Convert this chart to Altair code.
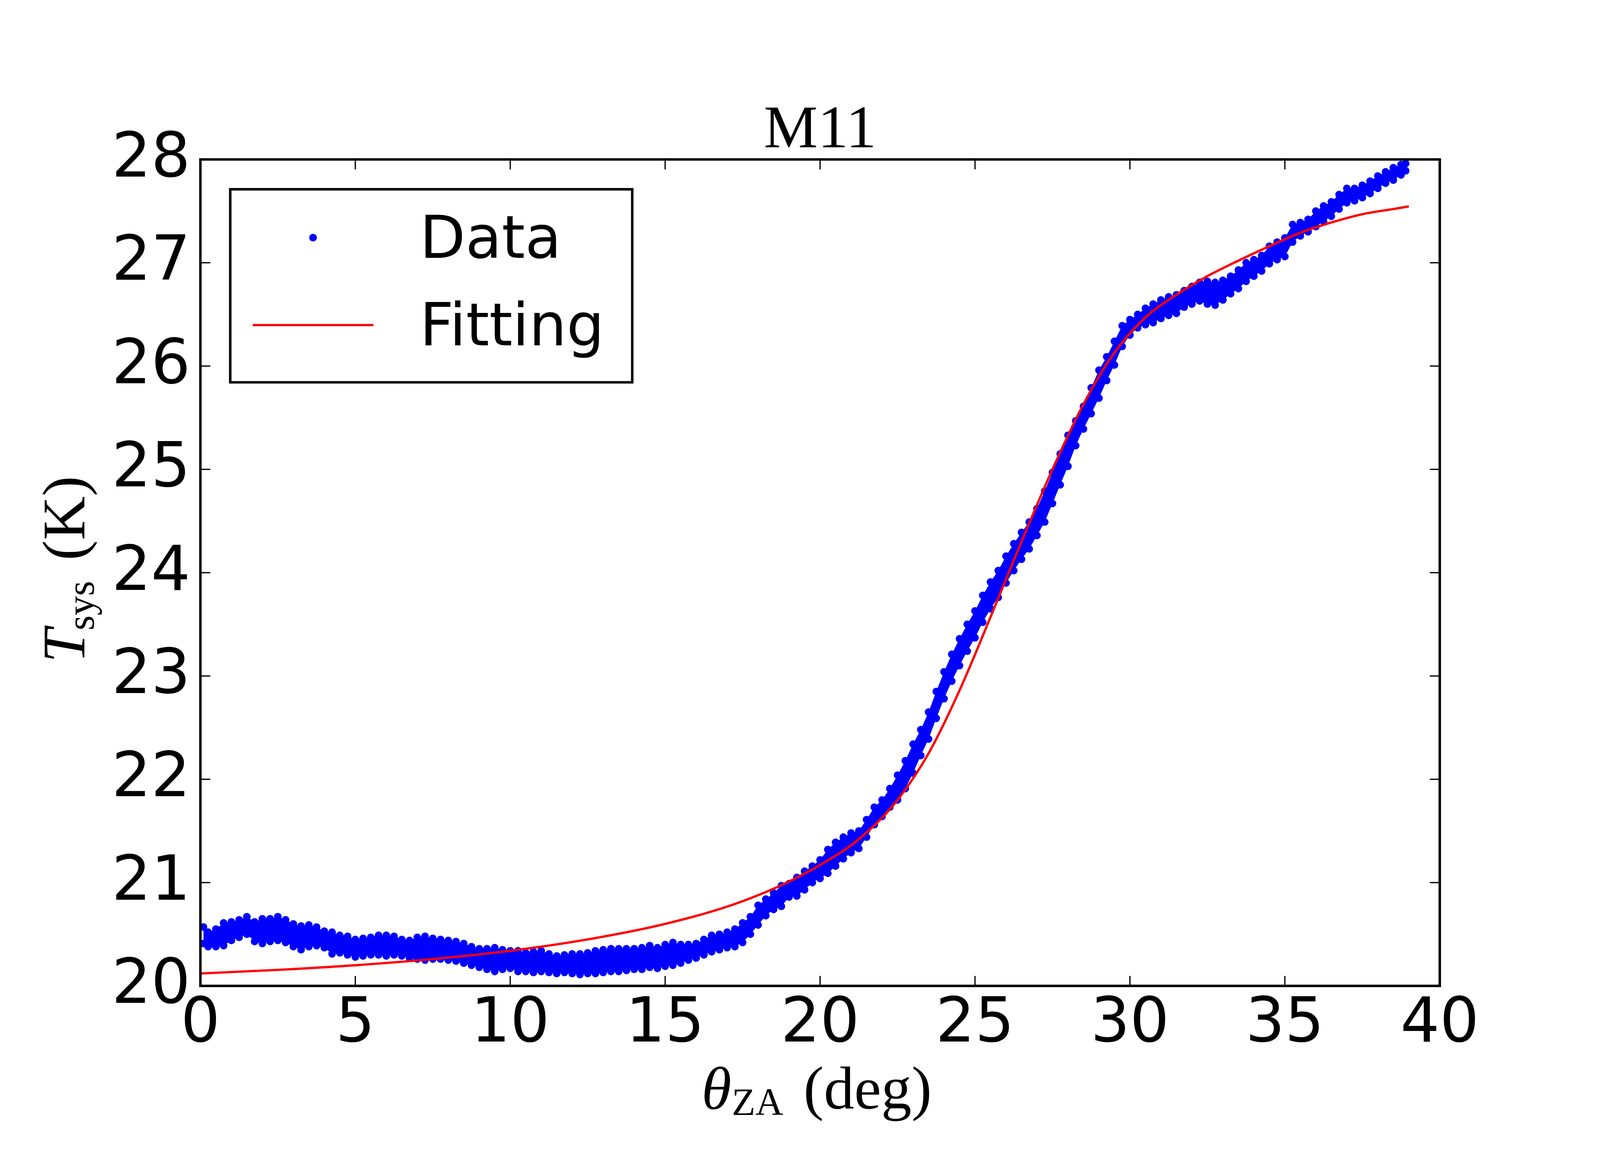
import altair as alt
import pandas as pd

# ---------------- data ----------------
THETA = [0.1, 0.25, 0.5, 0.75, 1.0, 1.25, 1.5, 1.75, 2.0, 2.25, 2.5, 2.75, 3.0, 3.25, 3.5, 3.75,
         4.0, 4.25, 4.5, 4.75, 5.0, 5.25, 5.5, 5.75, 6.0, 6.25, 6.5, 6.75, 7.0, 7.25, 7.5, 7.75,
         8.0, 8.25, 8.5, 8.75, 9.0, 9.25, 9.5, 9.75, 10.0, 10.25, 10.5, 10.75, 11.0, 11.25, 11.5, 11.75,
         12.0, 12.25, 12.5, 12.75, 13.0, 13.25, 13.5, 13.75, 14.0, 14.25, 14.5, 14.75, 15.0, 15.25, 15.5, 15.75,
         16.0, 16.25, 16.5, 16.75, 17.0, 17.25, 17.5, 17.75, 18.0, 18.25, 18.5, 18.75, 19.0, 19.25, 19.5, 19.75,
         20.0, 20.25, 20.5, 20.75, 21.0, 21.25, 21.5, 21.75, 22.0, 22.25, 22.5, 22.75, 23.0, 23.25, 23.5, 23.75,
         24.0, 24.25, 24.5, 24.75, 25.0, 25.25, 25.5, 25.75, 26.0, 26.25, 26.5, 26.75, 27.0, 27.25, 27.5, 27.75,
         28.0, 28.25, 28.5, 28.75, 29.0, 29.25, 29.5, 29.75, 30.0, 30.25, 30.5, 30.75, 31.0, 31.25, 31.5, 31.75,
         32.0, 32.25, 32.5, 32.75, 33.0, 33.25, 33.5, 33.75, 34.0, 34.25, 34.5, 34.75, 35.0, 35.25, 35.5, 35.75,
         36.0, 36.25, 36.5, 36.75, 37.0, 37.25, 37.5, 37.75, 38.0, 38.25, 38.5, 38.75, 38.9]

# upper edge of the scatter band (K)
T_UPPER = [20.57, 20.52, 20.55, 20.61, 20.62, 20.64, 20.67, 20.62, 20.65, 20.65, 20.67, 20.64, 20.60, 20.58, 20.59, 20.57,
           20.53, 20.52, 20.49, 20.48, 20.45, 20.46, 20.47, 20.49, 20.49, 20.48, 20.45, 20.44, 20.47, 20.48, 20.46, 20.45,
           20.44, 20.43, 20.41, 20.38, 20.36, 20.36, 20.37, 20.35, 20.34, 20.34, 20.32, 20.33, 20.34, 20.31, 20.29, 20.30,
           20.31, 20.31, 20.32, 20.34, 20.35, 20.36, 20.36, 20.36, 20.36, 20.37, 20.39, 20.37, 20.40, 20.42, 20.40, 20.40,
           20.41, 20.45, 20.49, 20.50, 20.52, 20.55, 20.61, 20.67, 20.78, 20.84, 20.90, 20.97, 20.99, 21.05, 21.11, 21.16,
           21.22, 21.32, 21.39, 21.44, 21.48, 21.50, 21.61, 21.73, 21.80, 21.91, 22.04, 22.18, 22.34, 22.48, 22.65, 22.85,
           23.04, 23.21, 23.36, 23.50, 23.63, 23.78, 23.91, 24.02, 24.16, 24.28, 24.39, 24.49, 24.62, 24.79, 24.97, 25.15,
           25.33, 25.47, 25.61, 25.79, 25.96, 26.09, 26.24, 26.39, 26.45, 26.50, 26.56, 26.60, 26.64, 26.67, 26.69, 26.73,
           26.77, 26.81, 26.82, 26.81, 26.83, 26.87, 26.93, 27.00, 27.03, 27.07, 27.16, 27.20, 27.24, 27.37, 27.39, 27.42,
           27.50, 27.55, 27.59, 27.66, 27.72, 27.72, 27.75, 27.79, 27.84, 27.88, 27.92, 27.95, 27.96]

# lower edge of the scatter band (K)
T_LOWER = [20.41, 20.38, 20.38, 20.39, 20.44, 20.47, 20.50, 20.43, 20.41, 20.43, 20.44, 20.42, 20.38, 20.35, 20.38, 20.39,
           20.37, 20.31, 20.32, 20.30, 20.28, 20.29, 20.30, 20.30, 20.29, 20.30, 20.29, 20.27, 20.26, 20.25, 20.26, 20.26,
           20.25, 20.24, 20.22, 20.20, 20.18, 20.16, 20.14, 20.16, 20.17, 20.14, 20.14, 20.13, 20.14, 20.13, 20.12, 20.13,
           20.12, 20.11, 20.12, 20.12, 20.13, 20.14, 20.14, 20.15, 20.16, 20.16, 20.18, 20.17, 20.19, 20.20, 20.22, 20.25,
           20.27, 20.30, 20.33, 20.35, 20.37, 20.38, 20.42, 20.50, 20.59, 20.68, 20.74, 20.77, 20.86, 20.87, 20.93, 21.00,
           21.04, 21.09, 21.16, 21.23, 21.29, 21.33, 21.44, 21.56, 21.64, 21.73, 21.80, 21.91, 22.06, 22.23, 22.39, 22.59,
           22.78, 22.95, 23.10, 23.24, 23.37, 23.52, 23.65, 23.76, 23.90, 24.02, 24.13, 24.23, 24.36, 24.49, 24.67, 24.85,
           25.03, 25.23, 25.39, 25.54, 25.69, 25.86, 26.01, 26.19, 26.30, 26.37, 26.40, 26.42, 26.46, 26.49, 26.51, 26.57,
           26.60, 26.63, 26.60, 26.59, 26.64, 26.70, 26.75, 26.82, 26.87, 26.92, 26.99, 27.03, 27.06, 27.20, 27.26, 27.30,
           27.35, 27.40, 27.45, 27.52, 27.58, 27.60, 27.63, 27.67, 27.72, 27.77, 27.80, 27.85, 27.89]

# fitted curve
FIT_THETA = [0.0, 2.5, 5.0, 7.5, 10.0, 12.5, 15.0, 17.5, 18.75, 20.0, 21.25, 22.5, 23.5, 24.5, 25.5,
             26.5, 27.5, 28.5, 29.5, 30.5, 31.5, 32.5, 33.5, 34.5, 35.5, 36.5, 37.5, 38.5, 39.0]
FIT_T = [20.12, 20.155, 20.20, 20.26, 20.34, 20.45, 20.60, 20.82, 20.975, 21.17, 21.42, 21.80, 22.25, 22.86, 23.57,
         24.30, 25.00, 25.63, 26.13, 26.47, 26.69, 26.87, 27.02, 27.16, 27.29, 27.39, 27.47, 27.52, 27.545]

X_LIM = [0, 40]
Y_LIM = [20, 28]
X_TICKS = [0, 5, 10, 15, 20, 25, 30, 35, 40]
Y_TICKS = [20, 21, 22, 23, 24, 25, 26, 27, 28]
TITLE = "M11"
LEGEND_LABELS = ["Data", "Fitting"]

# ---------------- layout / styling ----------------
CW, CH = 4484, 2984              # whole canvas (page minus 8px margins)
PX0, PX1 = 555, 4042             # plot area, canvas pixels
PY0, PY1 = 292, 2617
BLUE = "#0000ff"
RED = "#ff0000"
TICK_LEN = 28
SANS = "DejaVu Sans"
SERIF = "Liberation Serif"
TICK_FS = 174

band = pd.DataFrame({"theta": THETA, "hi": T_UPPER, "lo": T_LOWER})
fit = pd.DataFrame({"theta": FIT_THETA, "T": FIT_T})
xt = pd.DataFrame({"v": X_TICKS})
yt = pd.DataFrame({"v": Y_TICKS})
frame_df = pd.DataFrame({"x0": [X_LIM[0]], "x1": [X_LIM[1]], "y0": [Y_LIM[0]], "y1": [Y_LIM[1]]})

xs = alt.Scale(domain=X_LIM, range=[PX0, PX1], nice=False, zero=False)
ys = alt.Scale(domain=Y_LIM, range=[PY1, PY0], nice=False, zero=False)


def X(f):
    return alt.X(f, scale=xs, axis=None)


def Y(f):
    return alt.Y(f, scale=ys, axis=None)


area = alt.Chart(band).mark_area(color=BLUE, opacity=1).encode(
    x=X("theta:Q"), y=Y("lo:Q"), y2="hi:Q")

pts = alt.Chart(band).transform_fold(["hi", "lo"], as_=["edge", "T"]).mark_circle(
    color=BLUE, opacity=1, size=460).encode(x=X("theta:Q"), y=Y("T:Q"))

line = alt.Chart(fit).mark_line(color=RED, strokeWidth=6.5, interpolate="monotone").encode(
    x=X("theta:Q"), y=Y("T:Q"))

frame = alt.Chart(frame_df).mark_rect(fillOpacity=0, stroke="black", strokeWidth=7).encode(
    x=X("x0:Q"), x2="x1:Q", y=Y("y0:Q"), y2="y1:Q")

tick_style = dict(color="black", strokeWidth=3.5)
tb = alt.Chart(xt).mark_rule(**tick_style).encode(
    x=X("v:Q"), y=alt.value(PY1), y2=alt.value(PY1 - TICK_LEN))
tt = alt.Chart(xt).mark_rule(**tick_style).encode(
    x=X("v:Q"), y=alt.value(PY0), y2=alt.value(PY0 + TICK_LEN))
tl = alt.Chart(yt).mark_rule(**tick_style).encode(
    y=Y("v:Q"), x=alt.value(PX0), x2=alt.value(PX0 + TICK_LEN))
tr = alt.Chart(yt).mark_rule(**tick_style).encode(
    y=Y("v:Q"), x=alt.value(PX1), x2=alt.value(PX1 - TICK_LEN))

xlab = alt.Chart(xt).mark_text(font=SANS, fontSize=TICK_FS, align="center", baseline="alphabetic",
                               color="black").encode(
    x=X("v:Q"), y=alt.value(2774), text=alt.Text("v:Q", format="d"))
ylab = alt.Chart(yt).mark_text(font=SANS, fontSize=TICK_FS, align="right", baseline="alphabetic",
                               dy=48, color="black").encode(
    x=alt.value(527), y=Y("v:Q"), text=alt.Text("v:Q", format="d"))


def label(text, x, y, size, font=SERIF, style="normal", align="left", angle=0):
    return alt.Chart(pd.DataFrame({"t": [text]})).mark_text(
        font=font, fontSize=size, fontStyle=style, align=align, baseline="alphabetic",
        angle=angle, color="black").encode(
        x=alt.value(x), y=alt.value(y), text="t:N")


title = label(TITLE, (PX0 + PX1) / 2, 258, 171, align="center")
xl1 = label("θ", 1965, 2962, 171, style="italic")
xl2 = label("ZA", 2050, 2980, 109)
xl3 = label("(deg)", 2252, 2961, 171)
yl1 = label("T", 229, 1708, 171, style="italic", angle=270)
yl2 = label("sys", 255, 1617, 109, angle=270)
yl3 = label("(K)", 229, 1420, 171, angle=270)

one = pd.DataFrame({"a": [0]})
leg_box = alt.Chart(one).mark_rect(fill="white", stroke="black", strokeWidth=7).encode(
    x=alt.value(639), x2=alt.value(1770), y=alt.value(376), y2=alt.value(919))
leg_dot = alt.Chart(one).mark_circle(color=BLUE, opacity=1, size=470).encode(
    x=alt.value(872), y=alt.value(512))
leg_line = alt.Chart(one).mark_rule(color=RED, strokeWidth=6.5).encode(
    x=alt.value(702), x2=alt.value(1042), y=alt.value(758))
leg_t1 = label(LEGEND_LABELS[0], 1172, 569, 167, font=SANS)
leg_t2 = label(LEGEND_LABELS[1], 1172, 815, 167, font=SANS)

chart = alt.layer(
    area, pts, line, frame, tb, tt, tl, tr, xlab, ylab,
    leg_box, leg_dot, leg_line, leg_t1, leg_t2,
    title, xl1, xl2, xl3, yl1, yl2, yl3,
).properties(
    width=CW, height=CH,
    padding=0,
    autosize=alt.AutoSizeParams(type="none"),
    background="white",
).configure_view(stroke=None, fill="white")

chart.save("out.html", embed_options={"renderer": "svg", "actions": False})
